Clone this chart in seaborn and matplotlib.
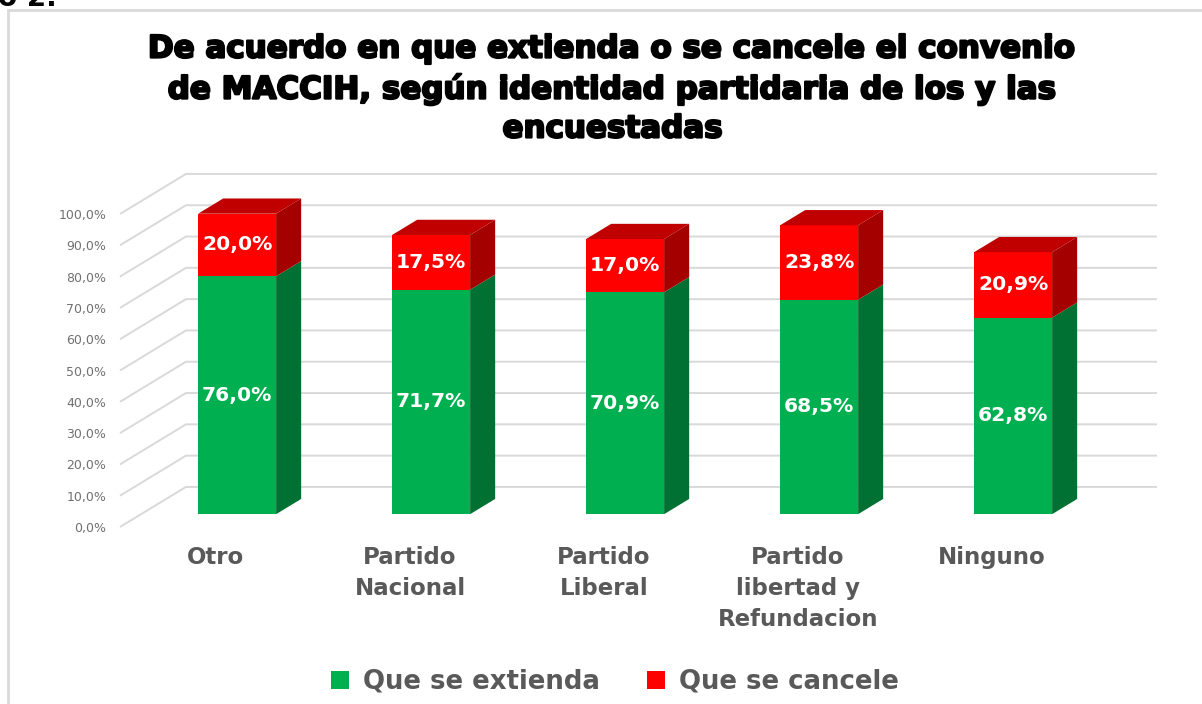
import matplotlib
matplotlib.use("Agg")
import matplotlib.pyplot as plt
import matplotlib.patheffects as pe
from matplotlib.patches import Patch, Rectangle
import seaborn as sns
import pandas as pd

# ---------------- data ----------------
categories = ["Otro", "Partido\nNacional", "Partido\nLiberal",
              "Partido\nlibertad y\nRefundacion", "Ninguno"]
extienda = [76.0, 71.7, 70.9, 68.5, 62.8]
cancele = [20.0, 17.5, 17.0, 23.8, 20.9]
series_names = ["Que se extienda", "Que se cancele"]
yticks = list(range(0, 101, 10))
title = ("De acuerdo en que extienda o se cancele el convenio\n"
         "de MACCIH, según identidad partidaria de los y las\n"
         "encuestadas")

# ---------------- style ----------------
GREEN, GREEN_SIDE = "#00B050", "#007033"
RED, RED_SIDE, RED_TOP = "#FF0000", "#A50000", "#C00000"
GRID = "#D9D9D9"
TXT = "#595959"

sns.set_theme(style="white")
plt.rcParams["font.family"] = ["DejaVu Sans"]

W_PX, H_PX = 1202, 704
fig = plt.figure(figsize=(W_PX / 100, H_PX / 100), dpi=100)

# axes geometry (pixels)
AX_L, AX_R, AX_T, AX_B = 112, 1190, 150, 540
ax = fig.add_axes([AX_L / W_PX, 1 - AX_B / H_PX, (AX_R - AX_L) / W_PX, (AX_B - AX_T) / H_PX])

X0_PX, CAT_PX = 216, 194      # centre of category 0 at front, spacing
Y0_PX, PCT_PX = 527, 3.13     # 0% at front, px per %

KX, KY = 0.34, 12.8           # oblique offset for full depth (cat units, %)
ZF, ZB = 0.32, 0.70           # bar front / back depth
BW = 0.402                    # bar width


def P(x, y, z):
    return x + KX * z, y + KY * z


totals = [a + b for a, b in zip(extienda, cancele)]
df = pd.DataFrame({"cat": categories, "ext": extienda, "can": cancele, "tot": totals})

# gridlines (floor diagonal + back wall)
x_left = (120 - X0_PX) / CAT_PX
x_right = (1157 - X0_PX) / CAT_PX
for v in yticks:
    p0 = P(x_left, v, 0)
    p1 = P(x_left, v, 1)
    ax.plot([p0[0], p1[0], x_right], [p0[1], p1[1], p1[1]], color=GRID, lw=1.4,
            zorder=0, solid_capstyle="butt")

# front faces via seaborn
sns.barplot(data=df, x="cat", y="tot", color=RED, saturation=1, width=BW,
            linewidth=0, ax=ax, zorder=2)
sns.barplot(data=df, x="cat", y="ext", color=GREEN, saturation=1, width=BW,
            linewidth=0, ax=ax, zorder=3)
dx, dy = KX * ZF, KY * ZF
for p in ax.patches:
    p.set_x(p.get_x() + dx)
    p.set_y(p.get_y() + dy)

# side + top faces
for i, (g, r) in enumerate(zip(extienda, cancele)):
    xr = i + BW / 2
    xl = i - BW / 2
    for (y0, y1, col) in [(0, g, GREEN_SIDE), (g, g + r, RED_SIDE)]:
        pts = [P(xr, y0, ZF), P(xr, y0, ZB), P(xr, y1, ZB), P(xr, y1, ZF)]
        ax.fill([q[0] for q in pts], [q[1] for q in pts], color=col, lw=0, zorder=4)
    t = g + r
    pts = [P(xl, t, ZF), P(xr, t, ZF), P(xr, t, ZB), P(xl, t, ZB)]
    ax.fill([q[0] for q in pts], [q[1] for q in pts], color=RED_TOP, lw=0, zorder=4)

    # labels
    cx = i + dx
    ax.text(cx, dy + g / 2, f"{g:.1f}%".replace(".", ","), ha="center", va="center",
            color="white", fontsize=14.6, fontweight="bold", zorder=6)
    ax.text(cx, dy + g + r / 2, f"{r:.1f}%".replace(".", ","), ha="center", va="center",
            color="white", fontsize=14.6, fontweight="bold", zorder=6)

ax.set_xlim((AX_L - X0_PX) / CAT_PX, (AX_R - X0_PX) / CAT_PX)
ax.set_ylim((Y0_PX - AX_B) / PCT_PX, (Y0_PX - AX_T) / PCT_PX)
ax.set_yticks(yticks, labels=[f"{v:.1f}%".replace(".", ",") for v in yticks])
ax.set_xticks(range(len(categories)), labels=categories)
for lab in ax.get_xticklabels():
    lab.set_fontweight("bold")
    lab.set_fontsize(16.5)
    lab.set_color(TXT)
    lab.set_linespacing(1.44)
for lab in ax.get_yticklabels():
    lab.set_fontsize(9)
    lab.set_color("#707070")
ax.tick_params(axis="x", length=0, pad=4.5)
ax.tick_params(axis="y", length=0, pad=4)
ax.set_xlabel("")
ax.set_ylabel("")
for s in ax.spines.values():
    s.set_visible(False)
ax.patch.set_alpha(0)

# title
fig.text(613 / W_PX, 1 - 89 / H_PX, title, ha="center", va="center", fontsize=22.3,
         fontweight="bold", color="black", linespacing=1.43,
         path_effects=[pe.withStroke(linewidth=1.6, foreground="black")])

# legend
handles = [Patch(facecolor=GREEN, edgecolor="none"), Patch(facecolor=RED, edgecolor="none")]
leg = fig.legend(handles, series_names, loc="center", bbox_to_anchor=(615 / W_PX, 1 - 682 / H_PX),
                 ncol=2, frameon=False, handlelength=0.7, handleheight=0.7,
                 handletextpad=0.55, columnspacing=1.8,
                 prop={"size": 18.7, "weight": "bold"})
for t in leg.get_texts():
    t.set_color(TXT)

# outer frame
fig.patches.append(Rectangle((8 / W_PX, -0.05), 1.1, 1 - 10 / H_PX + 0.05,
                             transform=fig.transFigure, fill=False,
                             edgecolor="#D9D9D9", lw=2, zorder=0))
# clipped heading fragment at top-left (as in the source image)
fig.text(-2 / W_PX, 1 - 6 / H_PX, "o 2.", ha="left", va="baseline", fontsize=20,
         fontweight="bold", color="black")

fig.savefig("out.png", dpi=100)
